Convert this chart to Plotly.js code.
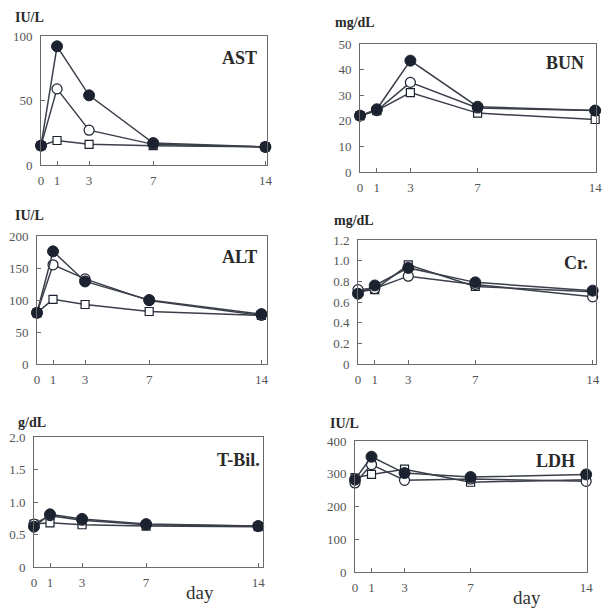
<!DOCTYPE html>
<html>
<head>
<meta charset="utf-8">
<script src="https://cdn.plot.ly/plotly-3.0.1.min.js"></script>
<style>html,body{margin:0;padding:0;background:#fff;}#chart{width:610px;height:608px;}</style>
</head>
<body>
<div id="chart"></div>
<script>
// ---- data ----
const days = [0, 1, 3, 7, 14];
const dayTickText = ['0', '1', '3', '7', '14'];

const astFilled = [15, 92, 54, 17, 14];
const astOpen   = [15, 59, 27, 16, 14];
const astSquare = [15, 19, 16, 15, 14];

const bunFilled = [22, 24.5, 43.5, 25.5, 24];
const bunOpen   = [22, 24, 35, 25, 24];
const bunSquare = [22, 24, 31, 23, 20.5];

const altFilled = [80, 176, 129, 100, 78];
const altOpen   = [80, 155, 133, 99, 76];
const altSquare = [80, 101, 93, 82, 76];

const crFilled = [0.68, 0.76, 0.93, 0.79, 0.71];
const crOpen   = [0.72, 0.73, 0.85, 0.77, 0.65];
const crSquare = [0.70, 0.72, 0.96, 0.75, 0.70];

const tbilFilled = [0.62, 0.81, 0.74, 0.66, 0.63];
const tbilOpen   = [0.66, 0.79, 0.72, 0.65, 0.63];
const tbilSquare = [0.66, 0.68, 0.65, 0.63, 0.62];

const ldhFilled = [282, 352, 302, 290, 298];
const ldhOpen   = [272, 328, 280, 284, 277];
const ldhSquare = [288, 298, 314, 274, 282];

const panelNames = ['AST', 'BUN', 'ALT', 'Cr.', 'T-Bil.', 'LDH'];
const panelUnits = ['IU/L', 'mg/dL', 'IU/L', 'mg/dL', 'g/dL', 'IU/L'];
const yTickVals = [
  [0, 50, 100],
  [0, 10, 20, 30, 40, 50],
  [0, 50, 100, 150, 200],
  [0, 0.2, 0.4, 0.6, 0.8, 1.0, 1.2],
  [0, 0.5, 1.0, 1.5, 2.0],
  [0, 100, 200, 300, 400]
];
const yTickText = [
  ['0', '50', '100'],
  ['0', '10', '20', '30', '40', '50'],
  ['0', '50', '100', '150', '200'],
  ['0', '0.2', '0.4', '0.6', '0.8', '1.0', '1.2'],
  ['0', '0.5', '1.0', '1.5', '2.0'],
  ['0', '100', '200', '300', '400']
];
const seriesByPanel = [
  [astSquare, astOpen, astFilled],
  [bunSquare, bunOpen, bunFilled],
  [altSquare, altOpen, altFilled],
  [crSquare, crOpen, crFilled],
  [tbilSquare, tbilOpen, tbilFilled],
  [ldhSquare, ldhOpen, ldhFilled]
];
const dayLabel = 'day';

// ---- layout geometry (pixels) ----
const W = 610, H = 608;
const boxes = [ // left, right, top, bottom, xmax
  [41, 267, 36, 165, 14.1],
  [360, 596, 44, 172, 14.05],
  [37, 267, 236, 364, 14.35],
  [358, 596, 240, 364, 14.2],
  [34, 263, 437, 567, 14.3],
  [355, 587, 441, 572, 14.05]
];
const namePos = [[259, 58], [586, 63], [259, 257], [590, 263], [262, 460], [577, 461]];
const unitPos = [[29, 17], [355, 22], [29, 215], [354, 220], [32, 422], [344, 423]];

const ink = '#1c2230';
const lineCol = '#3a3f4a';
const axisCol = '#6a6a6a';
const serif = 'Liberation Serif';

const markerStyles = [
  {symbol: 'square', size: 8, color: '#ffffff', line: {color: ink, width: 1.2}},
  {symbol: 'circle', size: 10, color: '#ffffff', line: {color: ink, width: 1.2}},
  {symbol: 'circle', size: 11, color: ink, line: {color: ink, width: 1}}
];

const traces = [];
const layout = {
  width: W, height: H,
  margin: {l: 0, r: 0, t: 0, b: 0},
  paper_bgcolor: '#ffffff',
  plot_bgcolor: '#ffffff',
  showlegend: false,
  font: {family: serif},
  annotations: []
};

boxes.forEach((b, i) => {
  const n = i + 1;
  const xa = 'xaxis' + (n === 1 ? '' : n);
  const ya = 'yaxis' + (n === 1 ? '' : n);
  const xr = 'x' + (n === 1 ? '' : n);
  const yr = 'y' + (n === 1 ? '' : n);
  const yVals = yTickVals[i];
  layout[xa] = {
    domain: [b[0] / W, b[1] / W],
    range: [0, b[4]],
    tickvals: days, ticktext: dayTickText,
    ticks: 'inside', ticklen: 4, tickcolor: axisCol,
    showline: true, mirror: true, linecolor: axisCol, linewidth: 1,
    showgrid: false, zeroline: false,
    tickfont: {family: serif, size: 13, color: '#555'},
    ticklabelstandoff: 3,
    anchor: yr, fixedrange: true
  };
  layout[ya] = {
    domain: [1 - b[3] / H, 1 - b[2] / H],
    range: [0, yVals[yVals.length - 1]],
    tickvals: yVals, ticktext: yTickText[i],
    ticks: 'inside', ticklen: 4, tickcolor: axisCol,
    showline: true, mirror: true, linecolor: axisCol, linewidth: 1,
    showgrid: false, zeroline: false,
    tickfont: {family: serif, size: 13, color: '#555'},
    ticklabelstandoff: 5,
    anchor: xr, fixedrange: true
  };
  seriesByPanel[i].forEach((ys, k) => {
    traces.push({
      x: days, y: ys, xaxis: xr, yaxis: yr,
      type: 'scatter', mode: 'lines+markers',
      cliponaxis: false,
      line: {color: lineCol, width: 1.5},
      marker: markerStyles[k],
      hoverinfo: 'skip'
    });
  });
  layout.annotations.push({
    xref: 'paper', yref: 'paper',
    x: namePos[i][0] / W, y: 1 - namePos[i][1] / H,
    xanchor: 'right', yanchor: 'middle', showarrow: false,
    text: '<b>' + panelNames[i] + '</b>',
    font: {family: serif, size: 18, color: '#2a2a2a'}
  });
  layout.annotations.push({
    xref: 'paper', yref: 'paper',
    x: unitPos[i][0] / W, y: 1 - unitPos[i][1] / H,
    xanchor: 'center', yanchor: 'middle', showarrow: false,
    text: '<b>' + panelUnits[i] + '</b>',
    font: {family: serif, size: 14, color: '#2a2a2a'}
  });
});

layout.annotations.push({
  xref: 'paper', yref: 'paper', x: 200 / W, y: 1 - 592 / H,
  xanchor: 'center', yanchor: 'middle', showarrow: false,
  text: dayLabel, font: {family: serif, size: 19, color: '#333'}
});
layout.annotations.push({
  xref: 'paper', yref: 'paper', x: 527 / W, y: 1 - 597 / H,
  xanchor: 'center', yanchor: 'middle', showarrow: false,
  text: dayLabel, font: {family: serif, size: 19, color: '#333'}
});

Plotly.newPlot('chart', traces, layout, {displayModeBar: false, staticPlot: true});
</script>
</body>
</html>
